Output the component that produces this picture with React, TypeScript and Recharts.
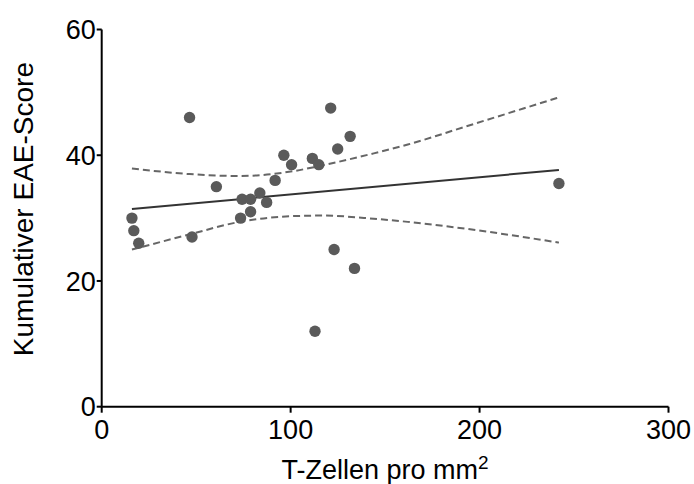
import React from 'react';
import { ComposedChart, Scatter, Line, XAxis, YAxis, Label } from 'recharts';

// T-Zellen pro mm² (x) and kumulativer EAE-Score (y) per animal
const tZellen = [16, 17, 19.6, 46.5, 47.8, 60.7, 73.5, 74.3, 78.8, 78.8, 83.7, 87.3, 91.8, 96.4, 100.5, 111.5, 114.9, 121.2, 124.9, 131.5, 123.0, 133.8, 112.9, 242];
const eaeScore = [30, 28, 26, 46, 27, 35, 30, 33, 33, 31, 34, 32.5, 36, 40, 38.5, 39.5, 38.5, 47.5, 41, 43, 25, 22, 12, 35.5];

// regression line
const fitX = [16, 242];
const fitY = [31.45, 37.66];

// 95% confidence band
const ciX = [16, 46.5, 73, 100, 117, 144, 162, 193, 242];
const ciUpper = [37.9, 37.0, 36.7, 37.4, 38.4, 40.3, 41.7, 44.6, 49.2];
const ciLower = [25.0, 27.4, 29.4, 30.3, 30.4, 29.9, 29.4, 28.3, 26.1];

const xTicks = [0, 100, 200, 300];
const yTicks = [0, 20, 40, 60];

const xTitle = 'T-Zellen pro mm';
const xTitleSup = '2';
const yTitle = 'Kumulativer EAE-Score';

const points = tZellen.map((x, i) => ({ x, y: eaeScore[i] }));
const fitData = fitX.map((x, i) => ({ x, y: fitY[i] }));
const upperData = ciX.map((x, i) => ({ x, y: ciUpper[i] }));
const lowerData = ciX.map((x, i) => ({ x, y: ciLower[i] }));

const FONT = '"Liberation Sans", Arial, Helvetica, sans-serif';

const XTitle = (props: any) => {
  const { x, y, width, height } = props.viewBox;
  return (
    <text x={x + width / 2} y={y + height - 5} textAnchor="middle" fontFamily={FONT} fontSize={27} fill="#000">
      {xTitle}
      <tspan dy={-10} fontSize={19}>{xTitleSup}</tspan>
    </text>
  );
};

const YTitle = (props: any) => {
  const { x, y, height } = props.viewBox;
  const bx = x + 33;
  const cy = y + height / 2 - 9;
  return (
    <text x={bx} y={cy} transform={`rotate(-90, ${bx}, ${cy})`} textAnchor="middle" fontFamily={FONT} fontSize={28} fill="#000">
      {yTitle}
    </text>
  );
};

const Dot = (props: any) => <circle cx={props.cx} cy={props.cy} r={5.7} fill="#5a5a5a" />;

export default function App() {
  return (
    <div style={{ position: 'absolute', left: 0, top: 0, background: '#fff' }}>
      <ComposedChart width={694} height={484} margin={{ top: 29.5, right: 25.5, bottom: 0, left: 0 }}>
        <XAxis
          type="number"
          dataKey="x"
          domain={[0, 300]}
          ticks={xTicks}
          allowDataOverflow
          height={77.3}
          axisLine={{ stroke: '#000', strokeWidth: 2 }}
          tickLine={{ stroke: '#000', strokeWidth: 2 }}
          tickSize={6}
          tickMargin={7}
          tick={{ fill: '#000', fontSize: 27, fontFamily: FONT }}
        >
          <Label content={<XTitle />} />
        </XAxis>
        <YAxis
          type="number"
          domain={[0, 60]}
          ticks={yTicks}
          allowDataOverflow
          width={101.7}
          axisLine={{ stroke: '#000', strokeWidth: 2 }}
          tickLine={{ stroke: '#000', strokeWidth: 2 }}
          tickSize={5}
          tickMargin={1}
          tick={{ fill: '#000', fontSize: 27, fontFamily: FONT }}
        >
          <Label content={<YTitle />} />
        </YAxis>
        <Line data={upperData} dataKey="y" type="monotone" stroke="#666" strokeWidth={2} strokeDasharray="7 4" dot={false} isAnimationActive={false} />
        <Line data={lowerData} dataKey="y" type="monotone" stroke="#666" strokeWidth={2} strokeDasharray="7 4" dot={false} isAnimationActive={false} />
        <Line data={fitData} dataKey="y" type="linear" stroke="#333" strokeWidth={2} dot={false} isAnimationActive={false} />
        <Scatter data={points} dataKey="y" shape={<Dot />} isAnimationActive={false} />
      </ComposedChart>
    </div>
  );
}
